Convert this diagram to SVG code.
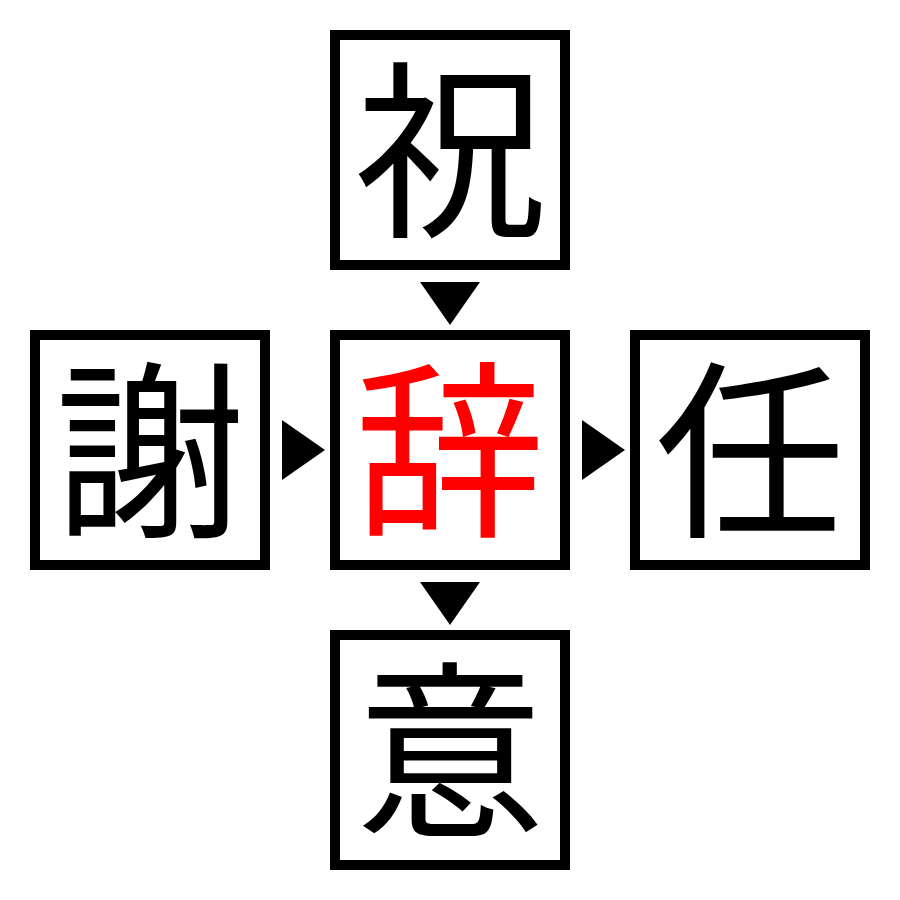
<svg xmlns="http://www.w3.org/2000/svg" width="900" height="900" viewBox="0 0 900 900">
<style>
.box{fill:#fff;stroke:#000;stroke-width:10}
.t{font-family:"Noto Sans CJK JP","Noto Sans CJK SC",serif;font-size:190px;text-anchor:middle}
.arr{fill:#000}
</style>
<rect width="900" height="900" fill="#fff"/>
<g id="node-top"><rect class="box" x="335" y="35" width="230" height="230"/><text class="t" x="450" y="222">祝</text></g>
<g id="node-left"><rect class="box" x="35" y="335" width="230" height="230"/><text class="t" x="150" y="522">謝</text></g>
<g id="node-center"><rect class="box" x="335" y="335" width="230" height="230"/><text class="t" x="450" y="522" fill="#f00">辞</text></g>
<g id="node-right"><rect class="box" x="635" y="335" width="230" height="230"/><text class="t" x="750" y="522">任</text></g>
<g id="node-bottom"><rect class="box" x="335" y="635" width="230" height="230"/><text class="t" x="450" y="822">意</text></g>
<g id="connectors">
<polygon class="arr" points="420,282 480,282 450,325"/>
<polygon class="arr" points="282,420 282,480 325,450"/>
<polygon class="arr" points="582,420 582,480 625,450"/>
<polygon class="arr" points="420,582 480,582 450,625"/>
</g>
</svg>
